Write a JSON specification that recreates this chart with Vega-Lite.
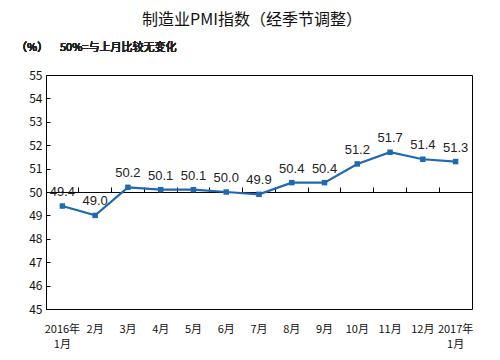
{
  "$schema": "https://vega.github.io/schema/vega-lite/v6.json",
  "autosize": "none",
  "width": 426,
  "height": 234,
  "padding": {"left": 46, "top": 75, "right": 28, "bottom": 51},
  "background": "white",
  "config": {
    "view": {"stroke": "#000000", "strokeWidth": 1},
    "font": "Noto Sans CJK SC",
    "axis": {"labelFont": "Noto Sans CJK SC", "labelColor": "#222", "grid": false}
  },
  "title": {
    "text": "制造业PMI指数（经季节调整）",
    "fontSize": 16,
    "fontWeight": "normal",
    "font": "Noto Sans CJK SC",
    "color": "#111",
    "anchor": "middle",
    "offset": 14,
    "dx": -7
  },
  "data": {
    "values": [
      {"month": "2016年|1月", "pmi": 49.4},
      {"month": "2月", "pmi": 49.0},
      {"month": "3月", "pmi": 50.2},
      {"month": "4月", "pmi": 50.1},
      {"month": "5月", "pmi": 50.1},
      {"month": "6月", "pmi": 50.0},
      {"month": "7月", "pmi": 49.9},
      {"month": "8月", "pmi": 50.4},
      {"month": "9月", "pmi": 50.4},
      {"month": "10月", "pmi": 51.2},
      {"month": "11月", "pmi": 51.7},
      {"month": "12月", "pmi": 51.4},
      {"month": "2017年|1月", "pmi": 51.3}
    ]
  },
  "encoding": {
    "x": {"field": "month", "type": "nominal", "sort": null, "axis": null,
      "scale": {"paddingInner": 0, "paddingOuter": 0}},
    "y": {"field": "pmi", "type": "quantitative",
      "scale": {"domain": [45, 55], "nice": false, "zero": false},
      "axis": {"title": null, "values": [45,46,47,48,49,50,51,52,53,54,55],
        "labelOverlap": false, "tickSize": -4, "tickColor": "#000", "domainColor": "#000",
        "labelFontSize": 12, "labelPadding": 8, "labelColor": "#111", "format": "d"}}
  },
  "layer": [
    {
      "mark": {"type": "rule", "opacity": 0},
      "encoding": {
        "x": {"field": "month", "type": "nominal", "sort": null,
          "axis": {"orient": "top", "offset": -117, "labels": false, "title": null, "ticks": true,
            "bandPosition": 0, "tickSize": 5, "tickColor": "#000", "tickWidth": 1, "tickOpacity": 1,
            "domainColor": "#000", "domainWidth": 1}}
      }
    },
    {
      "mark": {"type": "line", "color": "#1f69b0", "strokeWidth": 2.2},
      "encoding": {
        "x": {"field": "month", "type": "nominal", "sort": null,
          "axis": {"orient": "bottom", "title": null, "ticks": false, "domain": false,
            "labelAngle": 0, "labelFontSize": 11, "labelPadding": 14, "labelOverlap": false,
            "labelColor": "#111",
            "labelExpr": "split(datum.label, '|')", "labelLineHeight": 15}}
      }
    },
    {
      "mark": {"type": "square", "color": "#1f69b0", "size": 30, "opacity": 1, "filled": true}
    },
    {
      "mark": {"type": "text", "baseline": "bottom", "dy": -7, "fontSize": 13, "color": "#222", "font": "Liberation Sans"},
      "encoding": {"text": {"field": "pmi", "type": "quantitative", "format": ".1f"}}
    },
    {
      "mark": {"type": "text", "align": "left", "fontSize": 11, "color": "#222"},
      "encoding": {
        "x": {"value": -30},
        "y": {"value": -27},
        "text": {"value": "（%）"}
      }
    },
    {
      "mark": {"type": "text", "align": "left", "fontSize": 11, "color": "#222"},
      "encoding": {
        "x": {"value": 14},
        "y": {"value": -27},
        "text": {"value": "50%=与上月比较无变化"}
      }
    }
  ],
  "resolve": {"axis": {"x": "independent"}}
}
